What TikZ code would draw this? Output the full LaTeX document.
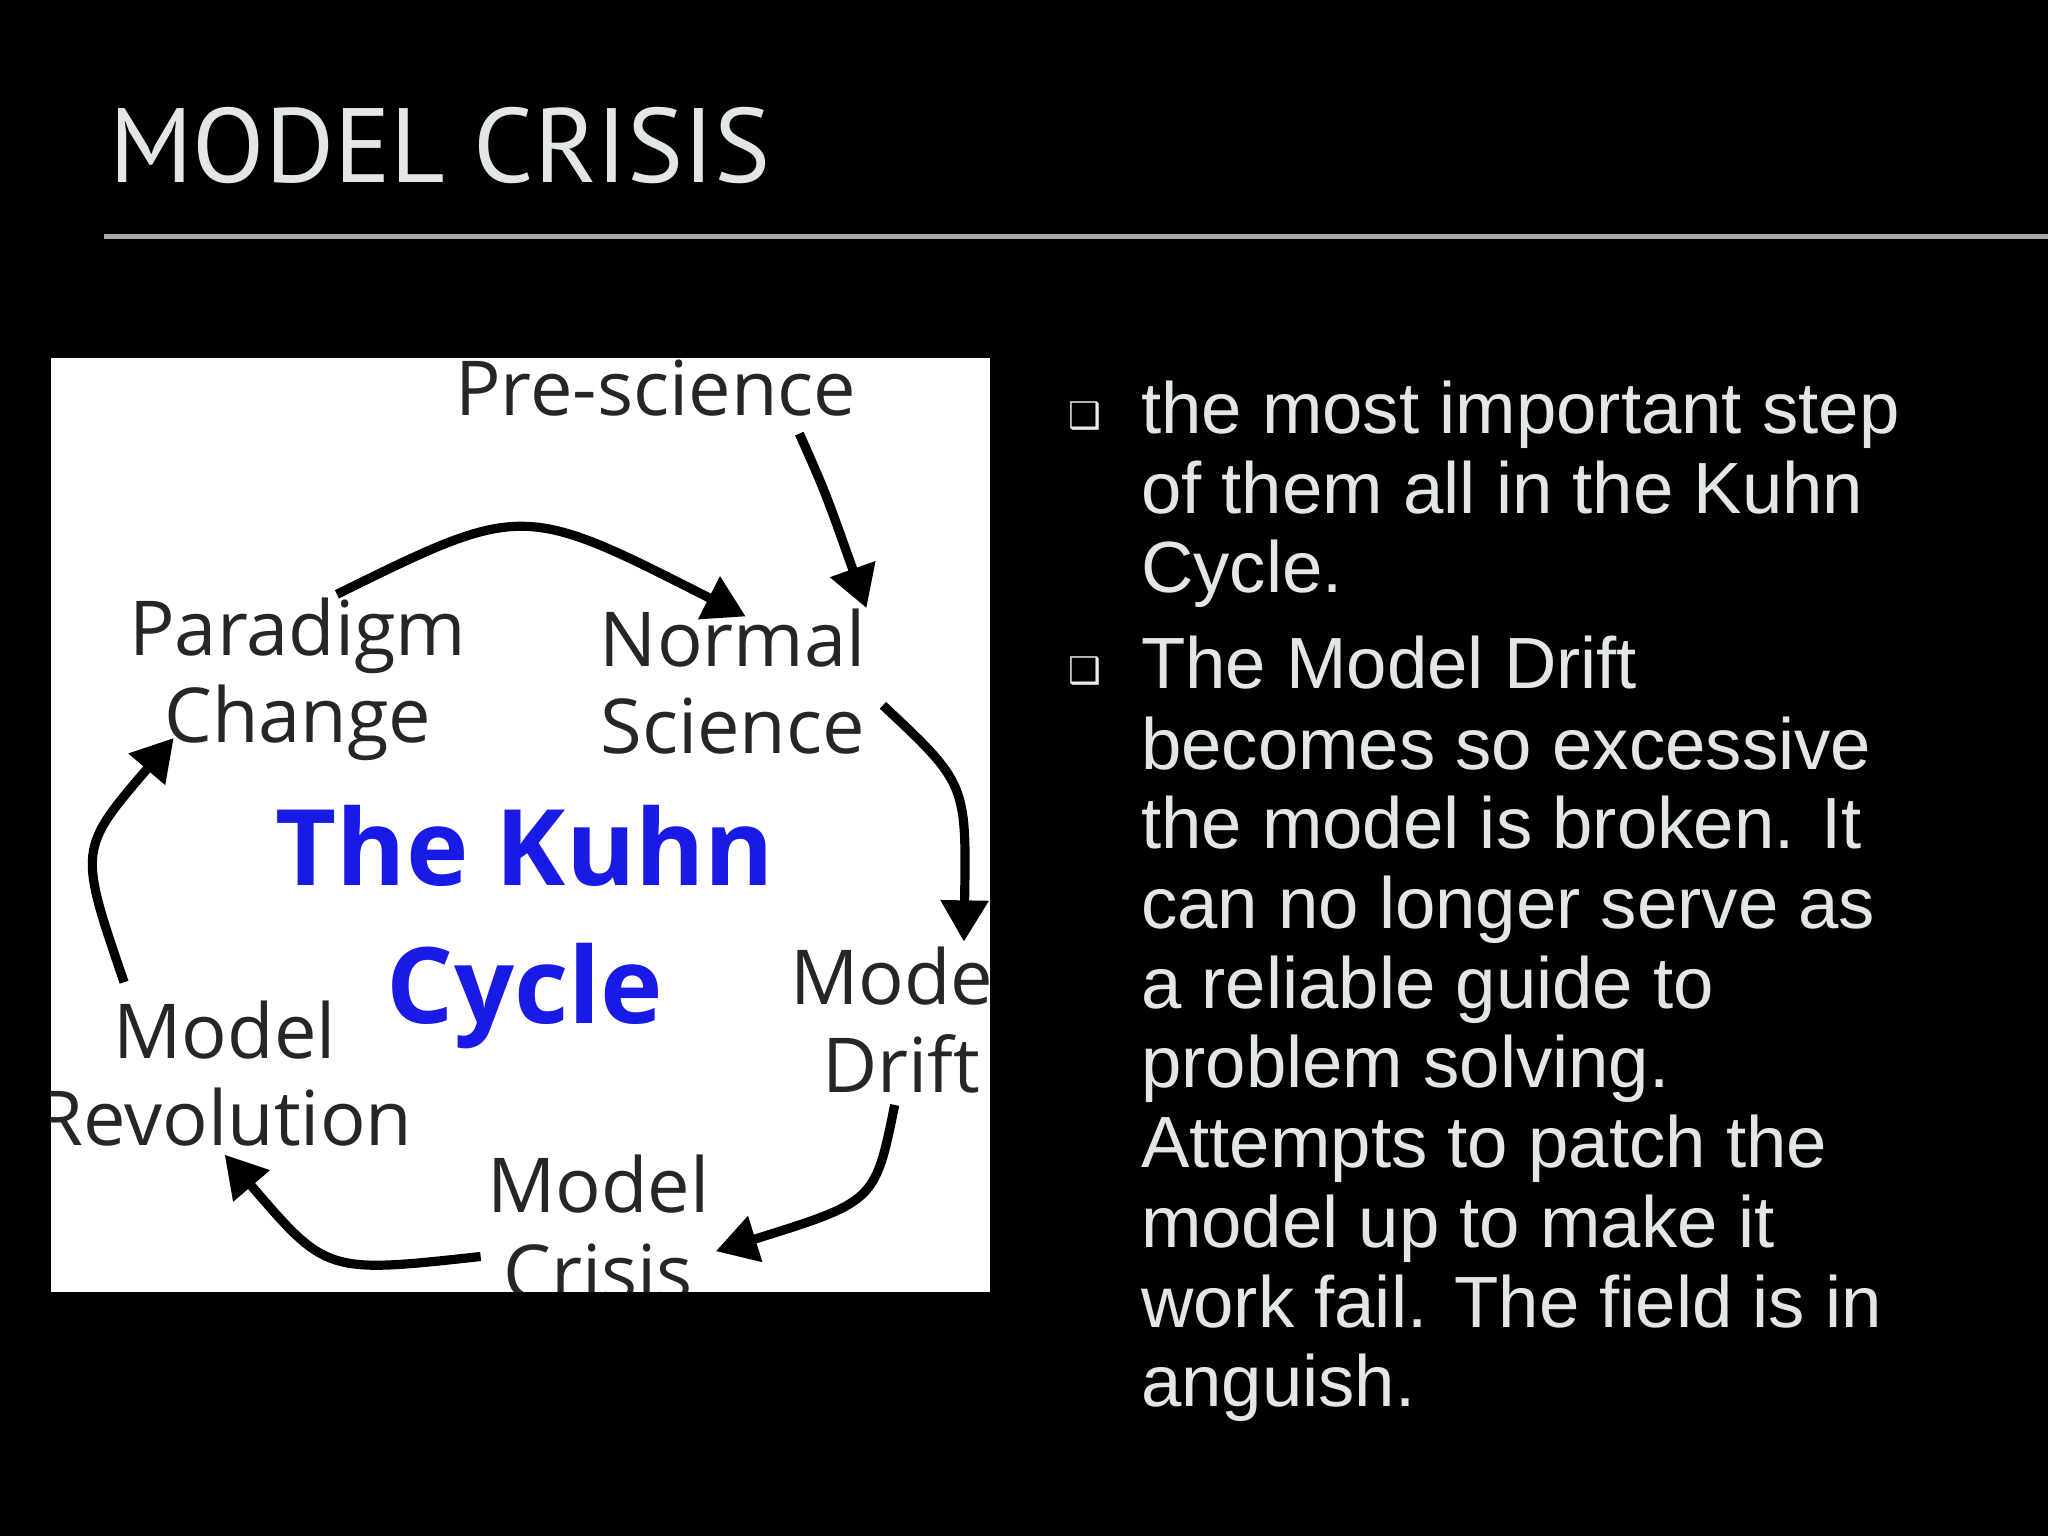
\documentclass[tikz,border=0pt]{standalone}
\usepackage{fontspec}
\setmainfont{Liberation Sans}
\newfontfamily\diag{Open Sans}
\newfontfamily\ttl{PT Sans}
\newfontfamily\sym{DejaVu Sans}
\usetikzlibrary{arrows.meta}
\definecolor{txt}{HTML}{E2E6E6}
\definecolor{kblue}{HTML}{1A1AE6}
\begin{document}
\begin{tikzpicture}[x=0.01cm,y=-0.01cm,
  lab/.style={font=\diag\fontsize{16.5pt}{17pt}\selectfont,align=center,text=black!85,inner sep=0},
  cyc/.style={line width=2pt,-{Triangle[length=9pt,width=10pt]},black},
  bl/.style={anchor=base west,text=txt,font=\fontsize{15.8pt}{17.6pt}\selectfont,inner sep=0},
  bul/.style={anchor=base west,text=txt!70,font=\sym\fontsize{8pt}{8pt}\selectfont,inner sep=0}]
\fill[black] (0,0) rectangle (1568,1176);
\useasboundingbox (0,0) rectangle (1568,1176);
\node[anchor=base west,inner sep=0,text=txt,font=\ttl\fontsize{23pt}{23pt}\selectfont] (title) at (83,140) {MODEL CRISIS};
\draw[gray!70,line width=1pt] (80,181) -- (1568,181);
\fill[white] (39,274) rectangle (758,989);
\begin{scope}
\clip (39,274) rectangle (758,989);
\node[lab] (pre) at (502,297) {Pre-science};
\node[lab] (normal) at (561,522) {Normal\\[2pt]Science};
\node[lab] (drift) at (690,781) {Model\\[2pt]Drift};
\node[lab] (crisis) at (458,940) {Model\\[2pt]Crisis};
\node[lab] (revol) at (172,822) {Model\\[2pt]Revolution};
\node[lab] (para) at (228,520) {Paradigm\\[2pt]Change};
\node[align=center,text=kblue,inner sep=0,font=\diag\bfseries\fontsize{23pt}{30pt}\selectfont] (kuhn) at (402,710) {The Kuhn\\Cycle};
\draw[cyc] ([shift={(110,35)}]pre.center) .. controls ([shift={(130,80)}]pre.center) .. (normal.north east);
\draw[cyc] ([shift={(30,-65)}]para.center) .. controls (400,385) .. ([shift={(10,-50)}]normal.center);
\draw[cyc] ([shift={(115,18)}]normal.center) .. controls (740,600) .. ([shift={(48,-60)}]drift.center);
\draw[cyc] ([shift={(-5,65)}]drift.center) .. controls (670,920) .. ([shift={(90,18)}]crisis.center);
\draw[cyc] ([shift={(-90,22)}]crisis.center) .. controls (250,975) .. ([shift={(0,62)}]revol.center);
\draw[cyc] ([shift={(-77,-70)}]revol.center) .. controls (60,650) .. ([shift={(-95,45)}]para.center);
\end{scope}
\foreach \i/\y/\t in {a/332/{the most important step},b/393/{of them all in the Kuhn},c/454/{Cycle.},
 d/527/{The Model Drift},e/589/{becomes so excessive},f/650/{the model is broken. It},g/711/{can no longer serve as},h/772/{a reliable guide to},i/833/{problem solving.},j/894/{Attempts to patch the},k/955/{model up to make it},l/1016/{work fail. The field is in},m/1077/{anguish.}}
  \node[bl] (l\i) at (873,\y) {\t};
\node[bul] (b1) at (817,328) {❑};
\node[bul] (b2) at (817,523) {❑};
\end{tikzpicture}
\end{document}
